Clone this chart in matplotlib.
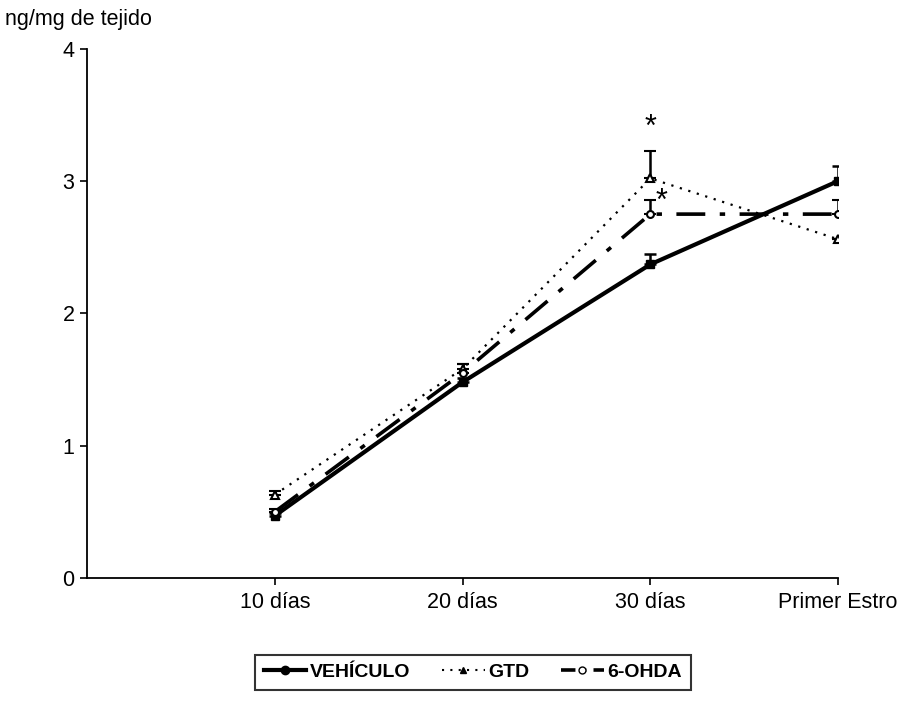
import matplotlib
matplotlib.use("Agg")
import matplotlib.pyplot as plt
from matplotlib.lines import Line2D

plt.rcParams['font.family'] = ['Liberation Sans', 'DejaVu Sans']

categories = ['10 días', '20 días', '30 días', 'Primer Estro']
vehiculo = [0.47, 1.48, 2.37, 3.00]
vehiculo_err = [0.02, 0.03, 0.08, 0.11]
gtd = [0.63, 1.58, 3.02, 2.56]
gtd_err = [0.03, 0.04, 0.21, 0.0]
ohda = [0.50, 1.55, 2.75, 2.75]
ohda_err = [0.02, 0.07, 0.11, 0.11]

x = [1, 2, 3, 4]

fig = plt.figure(figsize=(9.11, 7.01), dpi=100)
ax = fig.add_axes([0.0955, 0.1755, 0.8245, 0.755])

ax.errorbar(x, vehiculo, yerr=[[0] * 4, vehiculo_err], color='black', lw=3,
            marker='s', ms=6, capsize=4, elinewidth=1.8, capthick=1.8, zorder=3)
ax.errorbar(x, gtd, yerr=[[0] * 4, gtd_err], color='black', lw=1.6, ls=(0, (1, 3)),
            marker='^', ms=6, mfc='white', mew=1.5, capsize=4, elinewidth=1.8, capthick=1.8, zorder=4)
ax.errorbar(x, ohda, yerr=[[0] * 4, ohda_err], color='black', lw=2.6, ls=(0, (8, 4, 1.5, 4)),
            marker='o', ms=5, mfc='white', mew=1.5, capsize=4, elinewidth=1.8, capthick=1.8, zorder=4)

# asteriscos de significancia
ax.text(3, gtd[2] + gtd_err[2] + 0.06, '*', ha='center', va='bottom', fontsize=22)
ax.text(3.06, ohda[2] - 0.02, '*', ha='center', va='bottom', fontsize=22)

ax.set_xlim(0, 4)
ax.set_ylim(0, 4)
ax.set_xticks(x)
ax.set_xticklabels(categories, fontsize=15.5)
ax.set_yticks([0, 1, 2, 3, 4])
ax.tick_params(axis='y', direction='out', length=5, width=1.2, labelsize=15.5, pad=4)
ax.tick_params(axis='x', direction='out', length=5, width=1.2, pad=5)
for s in ['top', 'right']:
    ax.spines[s].set_visible(False)
ax.spines['left'].set_linewidth(1.3)
ax.spines['bottom'].set_linewidth(1.3)

fig.text(0.005, 0.972, 'ng/mg de tejido', fontsize=15.5, ha='left', va='center')

handles = [
    Line2D([], [], color='black', lw=3, marker='o', ms=6),
    Line2D([], [], color='black', lw=1.5, ls=(0, (1, 3)), marker='^', ms=5),
    Line2D([], [], color='black', lw=2.6, ls=(0, (4, 2, 1, 2)), marker='o', ms=5, mfc='white'),
]
leg = fig.legend(handles, ['VEHÍCULO', 'GTD', '6-OHDA'], loc='center', bbox_to_anchor=(0.519, 0.041),
                 ncol=3, frameon=True, fancybox=False, edgecolor='black', handlelength=2.2,
                 handletextpad=0.2, columnspacing=1.6, borderpad=0.45, prop={'weight': 'bold', 'size': 14})
leg.get_frame().set_linewidth(1.5)

fig.savefig('out.png', dpi=100)
